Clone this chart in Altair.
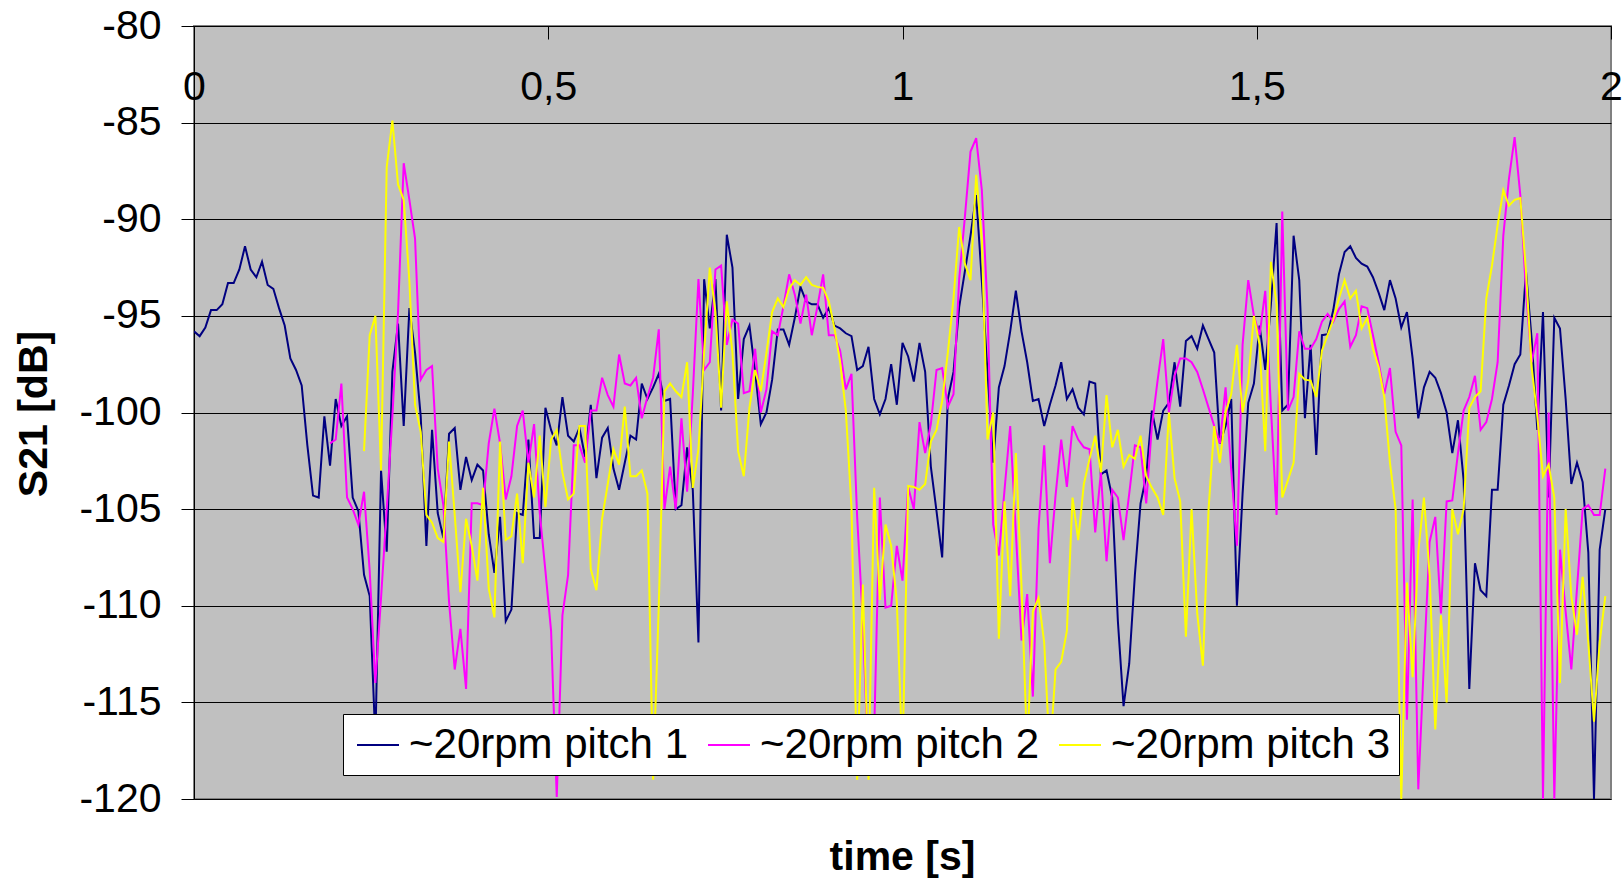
import altair as alt
import pandas as pd

# ---- data (sampling step 0.008 s) ----
DT = 0.008
SERIES = ["~20rpm pitch 1", "~20rpm pitch 2", "~20rpm pitch 3"]
COLORS = ["#000080", "#FF00FF", "#FFFF00"]
START_INDEX = [0, 24, 30]

PITCH1 = [
    -95.8, -96.05, -95.6, -94.7, -94.7, -94.4, -93.3, -93.3, -92.6, -91.4,
    -92.6, -93.0, -92.2, -93.4, -93.6, -94.6, -95.5, -97.2, -97.8, -98.6,
    -101.7, -104.3, -104.4, -100.2, -102.75, -99.3, -100.7, -100.2, -104.4, -105.1,
    -108.4, -109.5, -117.0, -103.0, -107.2, -97.9, -95.4, -100.7, -94.6, -96.9,
    -100.2, -106.9, -100.9, -105.2, -106.5, -101.1, -100.8, -104.0, -102.3, -103.5,
    -102.7, -103.0, -106.3, -108.3, -105.4, -110.8, -110.2, -105.2, -105.3, -101.4,
    -106.5, -106.5, -99.75, -100.9, -101.7, -99.2, -101.2, -101.5, -100.8, -102.3,
    -99.6, -103.4, -101.3, -100.8, -102.9, -104.0, -102.6, -101.2, -101.4, -98.5,
    -99.3, -98.7, -98.0, -99.4, -99.3, -105.0, -104.8, -101.8, -104.0, -111.9,
    -93.1, -95.65, -93.1, -99.9, -90.8, -92.5, -99.3, -96.2, -95.5, -97.9,
    -100.6, -100.0, -98.3, -95.7, -95.7, -96.5, -95.1, -93.5, -94.25, -94.4,
    -94.4, -95.1, -94.6, -95.5, -95.65, -95.9, -96.05, -97.8, -97.6, -96.6,
    -99.3, -100.1, -99.3, -97.5, -99.6, -96.4, -97.1, -98.4, -96.4, -97.9,
    -102.8, -105.1, -107.5, -99.3, -97.9, -94.55, -92.7, -90.85, -88.75, -93.2,
    -97.9, -102.6, -98.7, -97.6, -95.8, -93.7, -95.8, -97.4, -99.4, -99.3,
    -100.7, -99.6, -98.6, -97.4, -99.3, -98.8, -99.75, -100.1, -98.4, -98.5,
    -103.2, -103.0, -104.4, -110.8, -115.2, -113.0, -108.4, -104.7, -103.3, -99.9,
    -101.4, -99.9, -99.5, -97.4, -99.7, -96.3, -96.05, -96.7, -95.5, -96.2,
    -96.9, -101.6, -100.7, -99.3, -110.0, -104.2, -99.5, -98.5, -95.5, -97.8,
    -94.4, -90.2, -99.9, -99.6, -90.85, -93.15, -100.3, -96.5, -102.2, -96.0,
    -95.95, -94.7, -92.85, -91.7, -91.4, -92.0, -92.3, -92.45, -93.0, -93.8,
    -94.7, -93.15, -94.1, -95.6, -94.8, -97.2, -100.3, -98.7, -97.9, -98.2,
    -99.0, -100.0, -102.1, -100.4, -103.5, -114.3, -107.8, -109.2, -109.5, -104.0,
    -104.0, -99.6, -98.6, -97.5, -97.0, -92.7, -96.2, -100.9, -94.8, -104.4,
    -95.1, -95.65, -99.3, -103.7, -102.6, -103.6, -107.25, -120.0, -107.1, -105.0,
]

PITCH2 = [
    -101.6, -101.4, -98.5, -104.4, -105.0, -105.8,
    -104.1, -108.2, -114.0, -109.6, -105.0, -100.2, -94.8, -87.1, -89.0, -91.0,
    -98.3, -97.8, -97.6, -102.9, -104.8, -109.8, -113.3, -111.2, -114.3, -104.7,
    -104.7, -104.8, -101.6, -99.8, -101.6, -104.5, -103.3, -100.7, -99.9, -102.6,
    -100.6, -105.2, -108.2, -111.3, -119.9, -110.5, -108.4, -101.7, -101.7, -102.6,
    -99.9, -99.9, -98.2, -99.1, -99.7, -97.0, -98.5, -98.6, -98.2, -100.3,
    -99.2, -98.2, -95.7, -105.0, -102.8, -105.0, -100.3, -104.1, -99.05, -93.1,
    -97.8, -97.4, -92.6, -92.4, -96.5, -95.2, -95.4, -99.0, -98.9, -96.7,
    -100.0, -98.8, -95.8, -96.0, -94.5, -92.85, -93.9, -95.4, -93.9, -96.0,
    -94.5, -92.85, -96.0, -96.0, -96.8, -98.8, -98.0, -105.4, -110.8, -118.5,
    -116.6, -104.4, -110.1, -110.0, -106.9, -108.7, -103.85, -105.0, -100.5, -102.1,
    -100.6, -97.8, -97.7, -99.7, -99.05, -93.1, -89.9, -86.5, -85.8, -88.5,
    -94.6, -105.8, -107.4, -104.0, -100.7, -106.2, -111.8, -109.4, -114.7, -106.0,
    -101.7, -107.8, -104.3, -101.4, -103.85, -100.7, -101.4, -101.8, -101.9, -106.2,
    -103.1, -107.7, -104.0, -104.4, -106.6, -104.2, -101.7, -101.8, -104.7, -100.7,
    -98.35, -96.2, -100.0, -98.1, -97.2, -97.2, -97.4, -97.9, -98.8, -99.75,
    -100.7, -101.6, -98.7, -103.0, -106.9, -96.5, -93.15, -95.0, -96.0, -93.7,
    -99.75, -105.3, -89.6, -99.9, -99.2, -95.8, -96.7, -96.7, -96.2, -95.3,
    -94.9, -95.3, -94.65, -94.25, -96.6, -96.0, -94.5, -94.6, -96.0, -97.4,
    -99.05, -97.7, -101.0, -101.7, -115.9, -104.5, -119.5, -112.9, -106.7, -105.4,
    -110.4, -104.6, -104.55, -102.1, -99.9, -99.2, -98.1, -100.9, -100.5, -99.3,
    -97.4, -90.85, -87.9, -85.75, -88.75, -93.7, -97.4, -95.9, -120.0, -100.0,
    -120.0, -107.1, -110.3, -113.3, -109.1, -105.0, -104.8, -105.3, -105.3, -102.9,
]

PITCH3 = [
    -102.0, -96.0, -95.0, -103.0, -87.3, -84.9, -88.2, -89.0, -93.2, -99.6,
    -101.0, -105.3, -105.7, -106.5, -106.7, -101.5, -105.3, -109.3, -105.5, -106.9,
    -108.7, -103.9, -109.1, -110.6, -101.5, -106.6, -106.4, -104.2, -107.8, -102.6,
    -104.4, -101.2, -104.9, -101.4, -100.9, -103.1, -104.5, -104.2, -100.7, -100.7,
    -108.1, -109.2, -105.5, -103.7, -101.9, -102.7, -99.7, -103.3, -103.3, -103.0,
    -104.2, -119.0, -110.0, -98.9, -98.5, -98.9, -99.2, -97.4, -103.9, -101.9,
    -96.9, -92.5, -94.8, -99.75, -94.25, -96.9, -102.0, -103.3, -99.75, -97.8,
    -98.9, -96.9, -94.8, -94.1, -94.55, -93.6, -93.15, -93.4, -93.0, -93.4,
    -93.5, -93.55, -94.25, -95.65, -97.4, -99.9, -104.9, -119.0, -108.9, -119.0,
    -103.9, -109.7, -105.8, -106.9, -109.8, -118.0, -103.8, -103.85, -104.0, -103.7,
    -101.5, -100.9, -99.4, -96.9, -94.1, -90.4, -92.3, -93.15, -87.7, -91.1,
    -101.4, -100.0, -111.7, -104.6, -109.5, -102.1, -109.0, -117.5, -110.3, -109.6,
    -111.9, -117.8, -113.3, -112.9, -111.3, -104.4, -106.6, -103.7, -102.4, -101.2,
    -103.1, -99.1, -101.8, -100.9, -102.8, -102.2, -102.4, -101.2, -103.3, -103.9,
    -104.4, -105.3, -100.0, -103.4, -104.6, -111.6, -105.0, -110.4, -113.1, -105.0,
    -100.7, -102.6, -100.0, -99.05, -96.5, -100.0, -98.35, -95.0, -96.5, -102.0,
    -92.2, -94.4, -104.4, -103.5, -102.6, -98.0, -98.3, -98.35, -99.2, -96.8,
    -96.0, -95.2, -94.1, -93.15, -94.1, -93.7, -95.65, -95.1, -96.7, -97.65,
    -99.2, -102.6, -105.0, -120.0, -108.8, -113.7, -107.2, -104.4, -108.4, -116.4,
    -110.5, -115.0, -105.0, -106.3, -105.0, -99.75, -99.2, -98.9, -94.1, -92.4,
    -90.3, -88.5, -89.3, -89.0, -88.9, -92.7, -97.65, -100.2, -103.3, -102.7,
    -104.4, -114.0, -105.0, -109.5, -111.5, -108.5, -111.9, -116.0, -111.9, -109.5,
]

X_TICKS = [0, 0.5, 1, 1.5, 2]
Y_TICKS = [-120, -115, -110, -105, -100, -95, -90, -85, -80]

rows = []
for name, start, vals in zip(SERIES, START_INDEX, [PITCH1, PITCH2, PITCH3]):
    for i, v in enumerate(vals):
        rows.append({"time": round((start + i) * DT, 4), "s21": v, "series": name})
df = pd.DataFrame(rows)

FONT = "Liberation Sans"
W, H = 1417, 773

chart = (
    alt.Chart(df)
    .mark_line(strokeWidth=2, clip=True)
    .encode(
        x=alt.X(
            "time:Q",
            scale=alt.Scale(domain=[0, 2], nice=False, zero=False),
            axis=alt.Axis(
                orient="bottom", offset=-H, values=X_TICKS, tickSize=13,
                tickColor="black", domainColor="black", domainWidth=1,
                labelExpr="replace(toString(datum.value), '.', ',')",
                labelFontSize=41, labelFont=FONT, labelColor="black",
                labelPadding=28, labelOverlap=False, labelFlush=False,
                grid=False, title=None,
            ),
        ),
        y=alt.Y(
            "s21:Q",
            scale=alt.Scale(domain=[-120, -80], nice=False, zero=False),
            axis=alt.Axis(
                values=Y_TICKS, tickSize=13, tickColor="black",
                domainColor="black", domainWidth=1,
                grid=True, gridColor="black", gridWidth=1,
                labelExpr="toString(datum.value)",
                labelFontSize=41, labelFont=FONT, labelColor="black",
                labelPadding=20,
                title="S21 [dB]", titleFontSize=41, titleFontWeight="bold",
                titleFont=FONT, titleColor="black", titleX=-160, titleY=H / 2 + 1,
                titleAngle=-90, titleBaseline="middle", titleAlign="center",
            ),
        ),
        color=alt.Color(
            "series:N",
            scale=alt.Scale(domain=SERIES, range=COLORS),
            legend=alt.Legend(
                title=None, orient="none", legendX=149, legendY=688,
                direction="horizontal", columns=3,
                fillColor="white", strokeColor="black", padding=9,
                symbolType="stroke", symbolSize=1764, symbolStrokeWidth=2,
                symbolOffset=4,
                labelFontSize=42, labelFont=FONT, labelColor="black",
                labelLimit=500, labelOffset=9, columnPadding=15,
            ),
        ),
    )
    .properties(
        width=W,
        height=H,
        autosize=alt.AutoSizeParams(type="none"),
        padding={"left": 194, "top": 26, "right": 11, "bottom": 84},
        title=alt.TitleParams(
            "time [s]", orient="bottom", anchor="middle", fontSize=41,
            fontWeight="bold", font=FONT, color="black", offset=19,
        ),
        background="white",
    )
    .configure_view(fill="#C0C0C0", stroke="#808080", strokeWidth=2)
)

chart.save("out.html", embed_options={"renderer": "svg", "actions": False})
